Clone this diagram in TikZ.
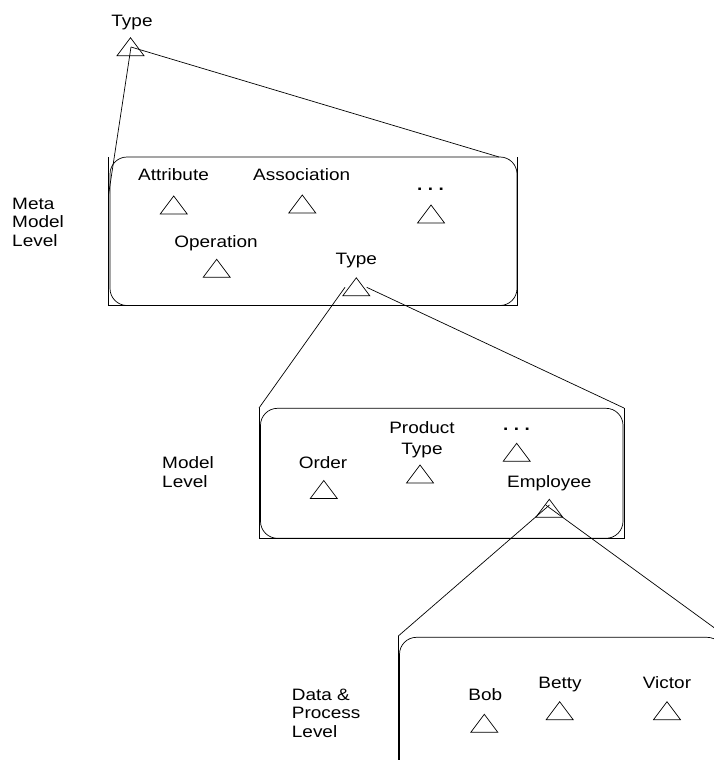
\documentclass[tikz,border=0pt]{standalone}
\usepackage{fontspec}
\setmainfont{Liberation Sans}[FakeStretch=1.15]
\begin{document}
\begin{tikzpicture}[x=1pt,y=-1pt,line join=miter,
  lbl/.style={inner sep=0pt,anchor=base,font=\fontsize{16.5}{18.5}\selectfont},
  lvl/.style={inner sep=0pt,anchor=base west,font=\fontsize{16.5}{18.5}\selectfont},
  frame/.style={line width=0.9pt},
  rbox/.style={line width=0.7pt,rounded corners=17pt},
  conn/.style={line width=0.7pt},
  tri/.pic={\draw[line width=0.7pt] (0,0) -- (13.5,18) -- (-13.5,18) -- cycle;
            \coordinate (-c) at (0,10);}]
\useasboundingbox (0,0) rectangle (714,760);
\clip (0,0) rectangle (714,760);

% ---------- top type ----------
\node[lbl] (typeTop) at (132,26.8) {Type};
\pic (trTop) at (130.5,37.7) {tri};
\coordinate (topJ) at (131,47);

% ---------- meta model box ----------
\draw[rbox] (110,157) rectangle (517,305.5);
\draw[frame] (108.5,157) |- (517.7,305.5) -- (517.7,157);
\coordinate (b1L) at (108.5,195);
\coordinate (b1R) at (499,157);
\draw[conn] (topJ) -- (b1L);
\draw[conn] (topJ) -- (b1R);

\node[lvl] (lvMeta) at (12,209) {\begin{tabular}[t]{@{}l@{}}Meta\\Model\\Level\end{tabular}};

\node[lbl] (attr) at (173.5,180) {Attribute};
\pic (trAttr) at (173.7,196) {tri};
\node[lbl] (assoc) at (301.7,180) {Association};
\pic (trAssoc) at (302.3,195) {tri};
\node[lbl] (dots1) at (430.5,190.5) {\bfseries .\,\,.\,\,.};
\pic (trDots1) at (431,205) {tri};
\node[lbl] (oper) at (216,247) {Operation};
\pic (trOper) at (216.7,259.3) {tri};
\node[lbl] (typeIn) at (356.3,264.5) {Type};
\pic (trType) at (356.3,277.8) {tri};
\coordinate (t1L) at (345,287.3);
\coordinate (t1R) at (366.7,287.3);

% ---------- model box ----------
\draw[rbox] (260.5,408.3) rectangle (623,538.3);
\draw[frame] (259,408) |- (624,538.3) -- (624,408);
\coordinate (b2L) at (259,408);
\coordinate (b2R) at (624,408);
\draw[conn] (t1L) -- (b2L);
\draw[conn] (t1R) -- (b2R);

\node[lvl] (lvModel) at (162,468.5) {\begin{tabular}[t]{@{}l@{}}Model\\Level\end{tabular}};

\node[lbl] (prod) at (422,433.5) {\begin{tabular}[t]{@{}c@{}}Product\\[2pt]Type\end{tabular}};
\pic (trProd) at (420,465) {tri};
\node[lbl] (dots2) at (516.5,430.5) {\bfseries .\,\,.\,\,.};
\pic (trDots2) at (516.7,443.3) {tri};
\node[lbl] (order) at (323,468.5) {Order};
\pic (trOrder) at (323.8,480.5) {tri};
\node[lbl] (empl) at (549.3,487) {Employee};
\pic (trEmpl) at (549.3,499.3) {tri};
\coordinate (eL) at (549.5,505);
\coordinate (eR) at (545.7,505);

% ---------- data & process box ----------
\draw[rbox] (399.5,637.3) rectangle (724,800);
\draw[frame] (398.3,636) -- (398.3,800);
\coordinate (b3L) at (398.3,636);
\coordinate (b3R) at (731,640);
\draw[conn] (eL) -- (b3L);
\draw[conn] (eR) -- (b3R);

\node[lvl] (lvData) at (291.7,700) {\begin{tabular}[t]{@{}l@{}}Data \&\\Process\\Level\end{tabular}};

\node[lbl] (bob) at (485.3,700) {Bob};
\pic (trBob) at (484.3,714.3) {tri};
\node[lbl] (betty) at (560,688.5) {Betty};
\pic (trBetty) at (559.7,701.7) {tri};
\node[lbl] (victor) at (667,688.5) {Victor};
\pic (trVictor) at (667,701.7) {tri};
\end{tikzpicture}
\end{document}
